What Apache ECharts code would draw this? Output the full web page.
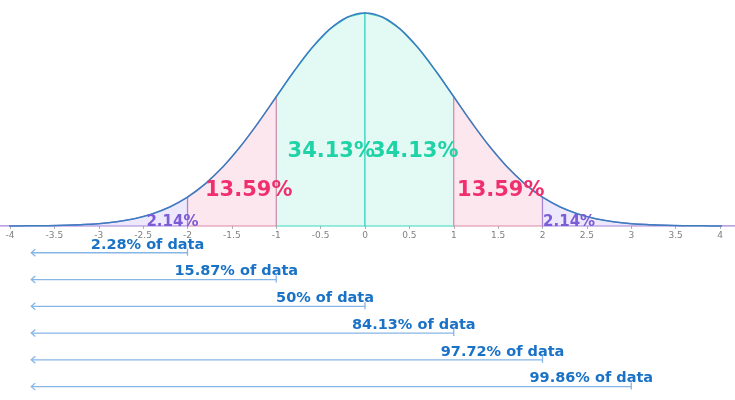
<!DOCTYPE html>
<html>
<head>
<meta charset="utf-8">
<script src="https://cdn.jsdelivr.net/npm/echarts@6/dist/echarts.min.js"></script>
<style>html,body{margin:0;padding:0;background:#fff}#c{width:735px;height:400px}</style>
</head>
<body>
<div id="c"></div>
<script>
// Curve sample points (x) and density values (y)
const curveX = [-4.2,-4.0,-3.8,-3.6,-3.4,-3.2,-3.0,-2.8,-2.6,-2.4,-2.2,-2.0,-1.8,-1.6,-1.4,-1.2,-1.0,-0.8,-0.6,-0.4,-0.2,
  0,0.2,0.4,0.6,0.8,1.0,1.2,1.4,1.6,1.8,2.0,2.2,2.4,2.6,2.8,3.0,3.2,3.4,3.6,3.8,4.0,4.2];
const curveY = [0.0001,0.0001,0.0003,0.0006,0.0012,0.0024,0.0044,0.0079,0.0136,0.0224,0.0355,0.0540,0.0790,0.1109,0.1497,0.1942,0.2420,0.2897,0.3332,0.3683,0.3910,
  0.3989,0.3910,0.3683,0.3332,0.2897,0.2420,0.1942,0.1497,0.1109,0.0790,0.0540,0.0355,0.0224,0.0136,0.0079,0.0044,0.0024,0.0012,0.0006,0.0003,0.0001,0.0001];

// Shaded bands: [from, to, kind]
const bandFrom = [-1, 0, -2, 1, -4.2, 2];
const bandTo   = [ 0, 1, -1, 2, -2, 4.2];
const bandKind = ['mid','mid','inner','inner','outer','outer'];

// Percent labels in the bands
const pctText = ['34.13%','34.13%','13.59%','13.59%','2.14%','2.14%'];
const pctKind = ['mid','mid','inner','inner','outer','outer'];

// Cumulative arrows
const cumEnd = [-2, -1, 0, 1, 2, 3];
const cumText = ['2.28% of data','15.87% of data','50% of data','84.13% of data','97.72% of data','99.86% of data'];
const cumStart = -3.76;

// Axis ticks
const xMin = -4, xMax = 4, xStep = 0.5;

const colors = {
  mid:   {fill:'#e3faf4', stroke:'#3dd6c4', text:'#1fd3a6'},
  inner: {fill:'#fde7ef', stroke:'#d98aa8', text:'#f0306e'},
  outer: {fill:'#ede8fb', stroke:'#a684d8', text:'#7b5bd6'}
};

// Label layout (positions in data units)
const pctPos = [[-0.38,0.1386],[0.56,0.1386],[-1.31,0.0656],[1.53,0.0656],[-2.17,0.0080],[2.30,0.0080]];
const pctSize = [21,21,21,21,15,15];

const chart = echarts.init(document.getElementById('c'));
const FONT = "'DejaVu Sans', sans-serif";

const option = {
  animation: false,
  grid: [
    {left:10, right:15, top:12.4, height:213.6},
    {left:10, right:15, top:226, height:174}
  ],
  xAxis: [
    {type:'value', gridIndex:0, min:xMin, max:xMax, interval:xStep,
     axisLine:{show:false}, splitLine:{show:false},
     axisTick:{show:true, length:3, lineStyle:{color:'#b0b0b0'}},
     axisLabel:{color:'#808080', fontSize:9, margin:5, fontFamily:FONT,
       formatter: v => String(Math.round(v*10)/10)}},
    {type:'value', gridIndex:1, min:xMin, max:xMax, show:false}
  ],
  yAxis: [
    {type:'value', gridIndex:0, min:0, max:0.4, show:false},
    {type:'value', gridIndex:1, min:0, max:6.5, inverse:true, show:false}
  ],
  series: [
    {
      type:'custom', xAxisIndex:0, yAxisIndex:0, clip:false, z:1,
      data: bandFrom.map((a,i)=>[a, bandTo[i], i]),
      renderItem: function(params, api){
        const i = params.dataIndex;
        const a = bandFrom[i], b = bandTo[i];
        const c = colors[bandKind[i]];
        const pts = [api.coord([a,0])];
        curveX.forEach((x,k)=>{ if (x >= a-1e-9 && x <= b+1e-9) pts.push(api.coord([x, curveY[k]])); });
        pts.push(api.coord([b,0]));
        return {type:'polygon', shape:{points:pts},
          style:{fill:c.fill, stroke:c.stroke, lineWidth:1.2}};
      }
    },
    {
      type:'line', xAxisIndex:0, yAxisIndex:0, clip:false, z:3,
      data: curveX.map((x,i)=>[x, curveY[i]]),
      smooth:0.4, showSymbol:false, symbol:'none',
      lineStyle:{color:'#3b7cc0', width:1.5}
    },
    {
      type:'custom', xAxisIndex:0, yAxisIndex:0, clip:false, z:5,
      data: pctText.map((t,i)=>[pctPos[i][0], pctPos[i][1]]),
      renderItem: function(params, api){
        const i = params.dataIndex;
        const p = api.coord([api.value(0), api.value(1)]);
        return {type:'text', x:p[0], y:p[1],
          style:{text:pctText[i], fill:colors[pctKind[i]].text,
            font:'bold '+pctSize[i]+'px '+FONT, align:'center', verticalAlign:'middle'}};
      }
    },
    {
      type:'custom', xAxisIndex:1, yAxisIndex:1, clip:false, z:5,
      data: cumEnd.map((e,i)=>[e, i+1]),
      renderItem: function(params, api){
        const i = params.dataIndex;
        const row = api.value(1), e = api.value(0);
        const p0 = api.coord([cumStart, row]);
        const p1 = api.coord([e, row]);
        const pt = api.coord([e - 0.45, row]);
        const ls = {stroke:'#86b6e6', lineWidth:1.3, fill:null};
        return {type:'group', children:[
          {type:'line', shape:{x1:p0[0], y1:p0[1], x2:p1[0], y2:p1[1]}, style:ls},
          {type:'polyline', shape:{points:[[p0[0]+4,p0[1]-3.5],[p0[0],p0[1]],[p0[0]+4,p0[1]+3.5]]}, style:ls},
          {type:'line', shape:{x1:p1[0], y1:p1[1]-4, x2:p1[0], y2:p1[1]+3}, style:ls},
          {type:'text', x:pt[0], y:p1[1]-8,
            style:{text:cumText[i], fill:'#1a72c6', font:'bold 14.5px '+FONT, align:'center', verticalAlign:'middle'}}
        ]};
      }
    }
  ]
};
chart.setOption(option);
</script>
</body>
</html>
